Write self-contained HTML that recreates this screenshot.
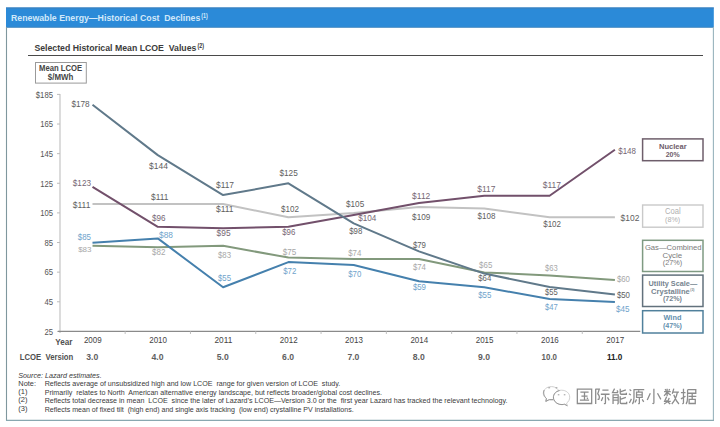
<!DOCTYPE html>
<html><head><meta charset="utf-8"><style>
html,body{margin:0;padding:0;background:#fff;width:720px;height:427px;overflow:hidden}
svg{display:block}
text{font-family:"Liberation Sans",sans-serif;white-space:pre}
</style></head><body>
<svg width="720" height="427" viewBox="0 0 720 427">
<rect x="0" y="0" width="720" height="427" fill="#ffffff"/>
<rect x="6" y="7.5" width="707.8" height="20.1" fill="#2b8ad8"/>
<line x1="6" y1="8.0" x2="713.8" y2="8.0" stroke="#3f7fb8" stroke-width="1"/>
<line x1="6" y1="27.3" x2="713.8" y2="27.3" stroke="#4a86b8" stroke-width="0.7"/>
<line x1="6.5" y1="27" x2="6.5" y2="420.8" stroke="#7f979e" stroke-width="1.1"/>
<line x1="713.4" y1="27" x2="713.4" y2="420.8" stroke="#98b4bd" stroke-width="1.1"/>
<line x1="6" y1="420.3" x2="713.9" y2="420.3" stroke="#88a8b0" stroke-width="1.2"/>
<text x="11.00" y="20.80" font-size="9.71" font-weight="bold" font-style="normal" fill="#d2e9fa" textLength="189.30" lengthAdjust="spacingAndGlyphs">Renewable Energy—Historical Cost  Declines</text>
<text x="201.30" y="18.30" font-size="6.71" font-weight="bold" font-style="normal" fill="#d4ebfb" textLength="6.50" lengthAdjust="spacingAndGlyphs">(1)</text>
<text x="34.40" y="50.60" font-size="9.43" font-weight="bold" font-style="normal" fill="#3c3c3c" textLength="162.00" lengthAdjust="spacingAndGlyphs">Selected Historical Mean LCOE  Values</text>
<text x="197.50" y="48.30" font-size="7.00" font-weight="bold" font-style="normal" fill="#333333" textLength="6.50" lengthAdjust="spacingAndGlyphs">(2)</text>
<line x1="28" y1="55.5" x2="703" y2="55.5" stroke="#4a4a4a" stroke-width="1.1"/>
<rect x="35.5" y="62.5" width="50.8" height="20.6" fill="none" stroke="#9a9a9a" stroke-width="1"/>
<text x="39.10" y="71.10" font-size="8.43" font-weight="bold" font-style="normal" fill="#444444" textLength="43.10" lengthAdjust="spacingAndGlyphs">Mean LCOE</text>
<text x="47.80" y="80.10" font-size="8.86" font-weight="bold" font-style="normal" fill="#444444" textLength="25.50" lengthAdjust="spacingAndGlyphs">$/MWh</text>
<line x1="60" y1="94" x2="60" y2="333" stroke="#c4c4c4" stroke-width="1.2"/>
<line x1="57" y1="94.39999999999998" x2="60" y2="94.39999999999998" stroke="#bcbcbc" stroke-width="1"/>
<text x="35.80" y="97.70" font-size="9.29" font-weight="normal" font-style="normal" fill="#555555" textLength="17.20" lengthAdjust="spacingAndGlyphs">$185</text>
<line x1="57" y1="124.02499999999998" x2="60" y2="124.02499999999998" stroke="#bcbcbc" stroke-width="1"/>
<text x="40.20" y="127.32" font-size="9.29" font-weight="normal" font-style="normal" fill="#555555" textLength="12.80" lengthAdjust="spacingAndGlyphs">165</text>
<line x1="57" y1="153.64999999999998" x2="60" y2="153.64999999999998" stroke="#bcbcbc" stroke-width="1"/>
<text x="40.20" y="156.95" font-size="9.29" font-weight="normal" font-style="normal" fill="#555555" textLength="12.80" lengthAdjust="spacingAndGlyphs">145</text>
<line x1="57" y1="183.27499999999998" x2="60" y2="183.27499999999998" stroke="#bcbcbc" stroke-width="1"/>
<text x="40.20" y="186.57" font-size="9.29" font-weight="normal" font-style="normal" fill="#555555" textLength="12.80" lengthAdjust="spacingAndGlyphs">125</text>
<line x1="57" y1="212.89999999999998" x2="60" y2="212.89999999999998" stroke="#bcbcbc" stroke-width="1"/>
<text x="40.20" y="216.20" font-size="9.29" font-weight="normal" font-style="normal" fill="#555555" textLength="12.80" lengthAdjust="spacingAndGlyphs">105</text>
<line x1="57" y1="242.52499999999998" x2="60" y2="242.52499999999998" stroke="#bcbcbc" stroke-width="1"/>
<text x="44.40" y="245.82" font-size="9.29" font-weight="normal" font-style="normal" fill="#555555" textLength="8.60" lengthAdjust="spacingAndGlyphs">85</text>
<line x1="57" y1="272.15" x2="60" y2="272.15" stroke="#bcbcbc" stroke-width="1"/>
<text x="44.40" y="275.45" font-size="9.29" font-weight="normal" font-style="normal" fill="#555555" textLength="8.60" lengthAdjust="spacingAndGlyphs">65</text>
<line x1="57" y1="301.775" x2="60" y2="301.775" stroke="#bcbcbc" stroke-width="1"/>
<text x="44.40" y="305.07" font-size="9.29" font-weight="normal" font-style="normal" fill="#555555" textLength="8.60" lengthAdjust="spacingAndGlyphs">45</text>
<line x1="57" y1="331.4" x2="60" y2="331.4" stroke="#bcbcbc" stroke-width="1"/>
<text x="44.40" y="334.70" font-size="9.29" font-weight="normal" font-style="normal" fill="#555555" textLength="8.60" lengthAdjust="spacingAndGlyphs">25</text>
<line x1="58" y1="331.4" x2="640.3" y2="331.4" stroke="#8a8a8a" stroke-width="1.1"/>
<line x1="125.15" y1="331.4" x2="125.15" y2="334" stroke="#c0c0c0" stroke-width="1"/>
<line x1="190.45" y1="331.4" x2="190.45" y2="334" stroke="#c0c0c0" stroke-width="1"/>
<line x1="255.75" y1="331.4" x2="255.75" y2="334" stroke="#c0c0c0" stroke-width="1"/>
<line x1="321.04999999999995" y1="331.4" x2="321.04999999999995" y2="334" stroke="#c0c0c0" stroke-width="1"/>
<line x1="386.35" y1="331.4" x2="386.35" y2="334" stroke="#c0c0c0" stroke-width="1"/>
<line x1="451.65" y1="331.4" x2="451.65" y2="334" stroke="#c0c0c0" stroke-width="1"/>
<line x1="516.9499999999999" y1="331.4" x2="516.9499999999999" y2="334" stroke="#c0c0c0" stroke-width="1"/>
<line x1="582.25" y1="331.4" x2="582.25" y2="334" stroke="#c0c0c0" stroke-width="1"/>
<text x="55.30" y="345.00" font-size="8.29" font-weight="bold" font-style="normal" fill="#505050" textLength="17.20" lengthAdjust="spacingAndGlyphs">Year</text>
<text x="19.70" y="360.00" font-size="8.29" font-weight="bold" font-style="normal" fill="#505050" textLength="53.60" lengthAdjust="spacingAndGlyphs">LCOE  Version</text>
<text x="83.90" y="343.30" font-size="8.29" font-weight="normal" font-style="normal" fill="#444444" textLength="17.80" lengthAdjust="spacingAndGlyphs">2009</text>
<text x="86.20" y="359.90" font-size="8.14" font-weight="bold" font-style="normal" fill="#606060" textLength="12.00" lengthAdjust="spacingAndGlyphs">3.0</text>
<text x="149.20" y="343.30" font-size="8.29" font-weight="normal" font-style="normal" fill="#444444" textLength="17.80" lengthAdjust="spacingAndGlyphs">2010</text>
<text x="151.50" y="359.90" font-size="8.14" font-weight="bold" font-style="normal" fill="#606060" textLength="12.00" lengthAdjust="spacingAndGlyphs">4.0</text>
<text x="214.50" y="343.30" font-size="8.29" font-weight="normal" font-style="normal" fill="#444444" textLength="17.80" lengthAdjust="spacingAndGlyphs">2011</text>
<text x="216.80" y="359.90" font-size="8.14" font-weight="bold" font-style="normal" fill="#606060" textLength="12.00" lengthAdjust="spacingAndGlyphs">5.0</text>
<text x="279.80" y="343.30" font-size="8.29" font-weight="normal" font-style="normal" fill="#444444" textLength="17.80" lengthAdjust="spacingAndGlyphs">2012</text>
<text x="282.10" y="359.90" font-size="8.14" font-weight="bold" font-style="normal" fill="#606060" textLength="12.00" lengthAdjust="spacingAndGlyphs">6.0</text>
<text x="345.10" y="343.30" font-size="8.29" font-weight="normal" font-style="normal" fill="#444444" textLength="17.80" lengthAdjust="spacingAndGlyphs">2013</text>
<text x="347.40" y="359.90" font-size="8.14" font-weight="bold" font-style="normal" fill="#606060" textLength="12.00" lengthAdjust="spacingAndGlyphs">7.0</text>
<text x="410.40" y="343.30" font-size="8.29" font-weight="normal" font-style="normal" fill="#444444" textLength="17.80" lengthAdjust="spacingAndGlyphs">2014</text>
<text x="412.70" y="359.90" font-size="8.14" font-weight="bold" font-style="normal" fill="#606060" textLength="12.00" lengthAdjust="spacingAndGlyphs">8.0</text>
<text x="475.70" y="343.30" font-size="8.29" font-weight="normal" font-style="normal" fill="#444444" textLength="17.80" lengthAdjust="spacingAndGlyphs">2015</text>
<text x="478.00" y="359.90" font-size="8.14" font-weight="bold" font-style="normal" fill="#606060" textLength="12.00" lengthAdjust="spacingAndGlyphs">9.0</text>
<text x="541.00" y="343.30" font-size="8.29" font-weight="normal" font-style="normal" fill="#444444" textLength="17.80" lengthAdjust="spacingAndGlyphs">2016</text>
<text x="541.60" y="359.90" font-size="8.14" font-weight="bold" font-style="normal" fill="#606060" textLength="15.40" lengthAdjust="spacingAndGlyphs">10.0</text>
<text x="606.30" y="343.30" font-size="8.29" font-weight="normal" font-style="normal" fill="#444444" textLength="17.80" lengthAdjust="spacingAndGlyphs">2017</text>
<text x="606.90" y="359.90" font-size="8.14" font-weight="bold" font-style="normal" fill="#222222" textLength="15.40" lengthAdjust="spacingAndGlyphs">11.0</text>
<polyline points="92.5,204.0 157.8,204.0 223.1,204.0 288.4,217.3 353.7,212.9 419.0,207.0 484.3,208.5 549.6,217.3 614.9,217.3" fill="none" stroke="#c2c2c2" stroke-width="2" stroke-linejoin="round"/>
<polyline points="92.5,245.8 157.8,247.3 223.1,245.8 288.4,257.6 353.7,259.1 419.0,259.1 484.3,272.4 549.6,275.4 614.9,279.9" fill="none" stroke="#82997c" stroke-width="2" stroke-linejoin="round"/>
<polyline points="92.5,186.8 157.8,226.8 223.1,228.3 288.4,226.8 353.7,215.0 419.0,203.1 484.3,195.7 549.6,195.7 614.9,149.8" fill="none" stroke="#72506b" stroke-width="2" stroke-linejoin="round"/>
<polyline points="92.5,242.8 157.8,238.4 223.1,287.3 288.4,262.1 353.7,265.0 419.0,281.3 484.3,287.3 549.6,299.1 614.9,302.1" fill="none" stroke="#4580ad" stroke-width="2" stroke-linejoin="round"/>
<polyline points="92.5,104.8 157.8,155.1 223.1,195.1 288.4,183.3 353.7,223.3 419.0,251.4 484.3,273.6 549.6,287.0 614.9,294.4" fill="none" stroke="#60798a" stroke-width="2" stroke-linejoin="round"/>
<text x="71.40" y="106.60" font-size="8.71" font-weight="normal" font-style="normal" fill="#606060" textLength="18.30" lengthAdjust="spacingAndGlyphs">$178</text>
<text x="149.00" y="168.90" font-size="8.71" font-weight="normal" font-style="normal" fill="#606060" textLength="18.90" lengthAdjust="spacingAndGlyphs">$144</text>
<text x="216.00" y="187.80" font-size="8.86" font-weight="normal" font-style="normal" fill="#606060" textLength="18.00" lengthAdjust="spacingAndGlyphs">$117</text>
<text x="279.40" y="176.00" font-size="8.86" font-weight="normal" font-style="normal" fill="#606060" textLength="18.40" lengthAdjust="spacingAndGlyphs">$125</text>
<text x="349.20" y="234.40" font-size="8.57" font-weight="normal" font-style="normal" fill="#606060" textLength="13.10" lengthAdjust="spacingAndGlyphs">$98</text>
<text x="412.90" y="248.30" font-size="8.71" font-weight="normal" font-style="normal" fill="#606060" textLength="13.10" lengthAdjust="spacingAndGlyphs">$79</text>
<text x="478.20" y="281.30" font-size="8.57" font-weight="normal" font-style="normal" fill="#606060" textLength="13.10" lengthAdjust="spacingAndGlyphs">$64</text>
<text x="545.10" y="295.30" font-size="8.71" font-weight="normal" font-style="normal" fill="#606060" textLength="12.70" lengthAdjust="spacingAndGlyphs">$55</text>
<text x="616.90" y="298.20" font-size="8.57" font-weight="normal" font-style="normal" fill="#606060" textLength="13.10" lengthAdjust="spacingAndGlyphs">$50</text>
<text x="72.80" y="185.80" font-size="8.57" font-weight="normal" font-style="normal" fill="#756673" textLength="18.20" lengthAdjust="spacingAndGlyphs">$123</text>
<text x="151.90" y="221.00" font-size="9.14" font-weight="normal" font-style="normal" fill="#756673" textLength="13.50" lengthAdjust="spacingAndGlyphs">$96</text>
<text x="216.60" y="236.20" font-size="9.14" font-weight="normal" font-style="normal" fill="#756673" textLength="14.00" lengthAdjust="spacingAndGlyphs">$95</text>
<text x="282.20" y="235.20" font-size="8.86" font-weight="normal" font-style="normal" fill="#756673" textLength="13.20" lengthAdjust="spacingAndGlyphs">$96</text>
<text x="358.20" y="220.90" font-size="8.86" font-weight="normal" font-style="normal" fill="#756673" textLength="18.20" lengthAdjust="spacingAndGlyphs">$104</text>
<text x="412.10" y="199.00" font-size="9.29" font-weight="normal" font-style="normal" fill="#756673" textLength="18.20" lengthAdjust="spacingAndGlyphs">$112</text>
<text x="477.20" y="192.00" font-size="8.57" font-weight="normal" font-style="normal" fill="#756673" textLength="18.20" lengthAdjust="spacingAndGlyphs">$117</text>
<text x="542.80" y="188.20" font-size="8.57" font-weight="normal" font-style="normal" fill="#756673" textLength="18.20" lengthAdjust="spacingAndGlyphs">$117</text>
<text x="618.20" y="154.00" font-size="8.86" font-weight="normal" font-style="normal" fill="#756673" textLength="17.80" lengthAdjust="spacingAndGlyphs">$148</text>
<text x="72.80" y="207.50" font-size="8.57" font-weight="normal" font-style="normal" fill="#606060" textLength="17.60" lengthAdjust="spacingAndGlyphs">$111</text>
<text x="151.00" y="200.40" font-size="9.14" font-weight="normal" font-style="normal" fill="#606060" textLength="17.40" lengthAdjust="spacingAndGlyphs">$111</text>
<text x="216.00" y="212.30" font-size="9.00" font-weight="normal" font-style="normal" fill="#606060" textLength="17.50" lengthAdjust="spacingAndGlyphs">$111</text>
<text x="281.00" y="212.00" font-size="9.14" font-weight="normal" font-style="normal" fill="#606060" textLength="18.00" lengthAdjust="spacingAndGlyphs">$102</text>
<text x="346.00" y="206.80" font-size="8.86" font-weight="normal" font-style="normal" fill="#606060" textLength="18.20" lengthAdjust="spacingAndGlyphs">$105</text>
<text x="412.10" y="219.70" font-size="8.86" font-weight="normal" font-style="normal" fill="#606060" textLength="18.20" lengthAdjust="spacingAndGlyphs">$109</text>
<text x="477.60" y="219.20" font-size="8.57" font-weight="normal" font-style="normal" fill="#606060" textLength="17.80" lengthAdjust="spacingAndGlyphs">$108</text>
<text x="543.20" y="227.20" font-size="8.86" font-weight="normal" font-style="normal" fill="#606060" textLength="17.80" lengthAdjust="spacingAndGlyphs">$102</text>
<text x="620.60" y="220.70" font-size="9.14" font-weight="normal" font-style="normal" fill="#606060" textLength="18.80" lengthAdjust="spacingAndGlyphs">$102</text>
<text x="78.20" y="252.10" font-size="8.00" font-weight="normal" font-style="normal" fill="#a8a8a8" textLength="13.30" lengthAdjust="spacingAndGlyphs">$83</text>
<text x="152.00" y="255.30" font-size="8.57" font-weight="normal" font-style="normal" fill="#a8a8a8" textLength="13.40" lengthAdjust="spacingAndGlyphs">$82</text>
<text x="218.00" y="257.60" font-size="8.57" font-weight="normal" font-style="normal" fill="#a8a8a8" textLength="13.00" lengthAdjust="spacingAndGlyphs">$83</text>
<text x="282.80" y="254.80" font-size="8.57" font-weight="normal" font-style="normal" fill="#a8a8a8" textLength="13.50" lengthAdjust="spacingAndGlyphs">$75</text>
<text x="348.20" y="256.00" font-size="8.86" font-weight="normal" font-style="normal" fill="#a8a8a8" textLength="13.10" lengthAdjust="spacingAndGlyphs">$74</text>
<text x="412.90" y="270.40" font-size="8.57" font-weight="normal" font-style="normal" fill="#a8a8a8" textLength="13.10" lengthAdjust="spacingAndGlyphs">$74</text>
<text x="479.10" y="267.60" font-size="8.57" font-weight="normal" font-style="normal" fill="#a8a8a8" textLength="13.20" lengthAdjust="spacingAndGlyphs">$65</text>
<text x="545.10" y="270.60" font-size="8.86" font-weight="normal" font-style="normal" fill="#a8a8a8" textLength="12.70" lengthAdjust="spacingAndGlyphs">$63</text>
<text x="616.90" y="281.50" font-size="8.29" font-weight="normal" font-style="normal" fill="#a8a8a8" textLength="13.10" lengthAdjust="spacingAndGlyphs">$60</text>
<text x="77.80" y="239.80" font-size="8.57" font-weight="normal" font-style="normal" fill="#6fa3cb" textLength="13.20" lengthAdjust="spacingAndGlyphs">$85</text>
<text x="159.00" y="237.90" font-size="8.57" font-weight="normal" font-style="normal" fill="#6fa3cb" textLength="13.90" lengthAdjust="spacingAndGlyphs">$88</text>
<text x="218.00" y="280.60" font-size="8.71" font-weight="normal" font-style="normal" fill="#6fa3cb" textLength="13.00" lengthAdjust="spacingAndGlyphs">$55</text>
<text x="283.20" y="274.00" font-size="8.57" font-weight="normal" font-style="normal" fill="#6fa3cb" textLength="13.10" lengthAdjust="spacingAndGlyphs">$72</text>
<text x="348.20" y="277.00" font-size="8.57" font-weight="normal" font-style="normal" fill="#6fa3cb" textLength="13.10" lengthAdjust="spacingAndGlyphs">$70</text>
<text x="412.90" y="290.00" font-size="8.57" font-weight="normal" font-style="normal" fill="#6fa3cb" textLength="13.10" lengthAdjust="spacingAndGlyphs">$59</text>
<text x="478.20" y="297.60" font-size="8.57" font-weight="normal" font-style="normal" fill="#6fa3cb" textLength="13.10" lengthAdjust="spacingAndGlyphs">$55</text>
<text x="545.10" y="309.80" font-size="8.57" font-weight="normal" font-style="normal" fill="#6fa3cb" textLength="12.70" lengthAdjust="spacingAndGlyphs">$47</text>
<text x="616.00" y="311.50" font-size="8.86" font-weight="normal" font-style="normal" fill="#6fa3cb" textLength="13.50" lengthAdjust="spacingAndGlyphs">$45</text>
<rect x="642.6" y="138.9" width="60.4" height="21.8" fill="none" stroke="#6e5e6b" stroke-width="1.5"/>
<text x="659.00" y="148.80" font-size="8.10" font-weight="bold" font-style="normal" fill="#6e5c6a" textLength="27.70" lengthAdjust="spacingAndGlyphs">Nuclear</text>
<text x="665.70" y="156.60" font-size="8.00" font-weight="bold" font-style="normal" fill="#6e5c6a" textLength="14.00" lengthAdjust="spacingAndGlyphs">20%</text>
<rect x="642.6" y="205" width="60.4" height="22.2" fill="none" stroke="#c9c9c9" stroke-width="1.4"/>
<text x="665.10" y="214.40" font-size="8.30" font-weight="normal" font-style="normal" fill="#b0b0b0" textLength="15.70" lengthAdjust="spacingAndGlyphs">Coal</text>
<text x="665.10" y="222.20" font-size="8.00" font-weight="normal" font-style="normal" fill="#b0b0b0" textLength="15.00" lengthAdjust="spacingAndGlyphs">(8%)</text>
<rect x="642.6" y="240.3" width="60.4" height="31.2" fill="none" stroke="#7f9a82" stroke-width="1.5"/>
<text x="644.90" y="250.40" font-size="8.00" font-weight="normal" font-style="normal" fill="#7a7a7a" textLength="56.60" lengthAdjust="spacingAndGlyphs">Gas—Combined</text>
<text x="662.50" y="258.00" font-size="8.00" font-weight="normal" font-style="normal" fill="#7a7a7a" textLength="19.70" lengthAdjust="spacingAndGlyphs">Cycle</text>
<text x="662.80" y="265.30" font-size="8.00" font-weight="normal" font-style="normal" fill="#7a7a7a" textLength="19.40" lengthAdjust="spacingAndGlyphs">(27%)</text>
<rect x="642.6" y="275.1" width="60.4" height="31.4" fill="none" stroke="#62717c" stroke-width="1.5"/>
<text x="648.50" y="285.80" font-size="8.00" font-weight="bold" font-style="normal" fill="#76848f" textLength="48.70" lengthAdjust="spacingAndGlyphs">Utility Scale—</text>
<text x="651.10" y="293.60" font-size="8.00" font-weight="bold" font-style="normal" fill="#76848f" textLength="38.70" lengthAdjust="spacingAndGlyphs">Crystalline</text>
<text x="690.30" y="291.00" font-size="4.00" font-weight="bold" font-style="normal" fill="#76848f" textLength="4.10" lengthAdjust="spacingAndGlyphs">(3)</text>
<text x="662.90" y="300.50" font-size="8.00" font-weight="bold" font-style="normal" fill="#76848f" textLength="19.10" lengthAdjust="spacingAndGlyphs">(72%)</text>
<rect x="642.6" y="310.7" width="60.4" height="22.3" fill="none" stroke="#50809c" stroke-width="1.5"/>
<text x="663.50" y="320.20" font-size="8.00" font-weight="bold" font-style="normal" fill="#6490ae" textLength="17.90" lengthAdjust="spacingAndGlyphs">Wind</text>
<text x="662.90" y="327.90" font-size="8.00" font-weight="bold" font-style="normal" fill="#6490ae" textLength="19.10" lengthAdjust="spacingAndGlyphs">(47%)</text>
<text x="18.30" y="377.60" font-size="7.86" font-weight="normal" font-style="italic" fill="#3a3a3a" textLength="83.40" lengthAdjust="spacingAndGlyphs">Source: Lazard estimates.</text>
<text x="18.30" y="385.90" font-size="7.86" font-weight="normal" font-style="normal" fill="#3a3a3a" textLength="17.70" lengthAdjust="spacingAndGlyphs">Note:</text>
<text x="44.70" y="385.90" font-size="7.86" font-weight="normal" font-style="normal" fill="#3a3a3a" textLength="295.60" lengthAdjust="spacingAndGlyphs">Reflects average of unsubsidized high and low LCOE  range for given version of LCOE  study.</text>
<text x="18.30" y="393.60" font-size="7.60" font-weight="normal" font-style="normal" fill="#3a3a3a" textLength="9.20" lengthAdjust="spacingAndGlyphs">(1)</text>
<text x="44.70" y="394.70" font-size="7.86" font-weight="normal" font-style="normal" fill="#3a3a3a" textLength="337.30" lengthAdjust="spacingAndGlyphs">Primarily  relates to North  American alternative energy landscape, but reflects broader/global cost declines.</text>
<text x="18.30" y="402.40" font-size="7.60" font-weight="normal" font-style="normal" fill="#3a3a3a" textLength="9.20" lengthAdjust="spacingAndGlyphs">(2)</text>
<text x="44.70" y="403.40" font-size="7.86" font-weight="normal" font-style="normal" fill="#3a3a3a" textLength="462.80" lengthAdjust="spacingAndGlyphs">Reflects total decrease in mean  LCOE  since the later of Lazard’s LCOE—Version 3.0 or the  first year Lazard has tracked the relevant technology.</text>
<text x="18.30" y="411.10" font-size="7.60" font-weight="normal" font-style="normal" fill="#3a3a3a" textLength="9.20" lengthAdjust="spacingAndGlyphs">(3)</text>
<text x="44.70" y="412.10" font-size="7.86" font-weight="normal" font-style="normal" fill="#3a3a3a" textLength="309.00" lengthAdjust="spacingAndGlyphs">Reflects mean of fixed tilt  (high end) and single axis tracking  (low end) crystalline PV installations.</text>
<g fill="#ffffff" stroke="#c4c4c4" stroke-width="0.8">
<path d="M551.4,386.6 C546.5,386.6 543.3,389.8 543.3,393.4 C543.3,395.5 544.6,397.3 546.4,398.5 L545.8,401.4 L548.8,399.6 C549.6,399.9 550.5,400 551.4,400 C556,400 559.4,397 559.4,393.4 C559.4,389.8 556,386.6 551.4,386.6 Z"/>
<path d="M561.5,390.2 C557,390.2 553.3,393.2 553.3,397.2 C553.3,401.2 557,404.6 561.5,404.6 C562.4,404.6 563.3,404.5 564.1,404.2 L567.4,405.8 L566.6,403.1 C568.6,401.8 569.7,399.6 569.7,397.2 C569.7,393.2 566.2,390.2 561.5,390.2 Z"/>
</g>
<g stroke="#8e8e8e" stroke-width="0.9" fill="none"><path d="M544.2,390 C543.2,392.5 543.6,395.8 546.4,398.5 L545.8,401.4 L549.5,399.6 H553 M559.6,390.6 C555,391.5 552.5,395.5 553.8,399.5 C555,402.5 558,404.6 562,404.6 C563,404.6 564,404.4 564.6,404.2 L567.4,405.8 M548.3,387.8 H550.1 M555.6,387.8 H557.4 M557.8,394.8 H559.4 M563.8,394.8 H565.4"/></g>
<g fill="none" stroke="#8c8c8c" stroke-width="1.25" stroke-linecap="butt" stroke-linejoin="miter">
<path transform="translate(576.30,387.6) scale(1.025)" d="M1,1.5 H15 V15.5 H1 Z M4,4.5 H12 M5,8.3 H11 M3.5,12.3 H12.5 M8,4.5 V12.3 M10.3,9.8 L11.3,11"/>
<path transform="translate(593.65,387.6) scale(1.025)" d="M2,1 V16 M2,1.5 H5.5 L4,6 Q6.5,8.5 5,11.5 H3.8 M8.5,2.5 H14.5 M7,6.5 H15.5 M11.5,6.5 V15 Q11.5,16 10,15.5 M9,9.5 L7.5,13 M13.5,9.5 L15.2,12.5"/>
<path transform="translate(611.00,387.6) scale(1.025)" d="M3.5,1 L1.5,4.8 H7 M5.7,2.8 L7,4 M2,16 V7 H7 V15.3 Q7,16 6,15.8 M2,9.7 H7 M2,12.3 H7 M9,1.2 V5.5 Q9,6.5 10,6.5 H15 V5 M14.5,2.3 L9,4.2 M9,8.5 V14.5 Q9,15.5 10,15.5 H15.3 V13.8 M14.5,9.5 L9,11.5"/>
<path transform="translate(628.35,387.6) scale(1.025)" d="M1.2,1.8 L2.8,3.2 M0.6,6 L2.4,7.3 M1,15 L3,11 M5,2 H15.5 M5.5,2 V10 Q5.5,14 4,16 M10.3,2.8 L9.8,4.5 M8,4.5 H13.5 V9.5 H8 Z M8,7 H13.5 M10.75,9.5 V15 Q10.75,16 9.6,15.5 M8,11.5 L6.5,14.5 M13.5,11.5 L15,14"/>
<path transform="translate(645.70,387.6) scale(1.025)" d="M8,1 V14.8 Q8,16 6.5,15.3 M4.5,5.5 L1.5,12 M11.5,5.5 L14.8,11.5"/>
<path transform="translate(663.05,387.6) scale(1.025)" d="M2,1.5 L3,3 M6.5,1.5 L5.5,3 M1,4 H7.5 M4,1 V8.5 M4,4.5 L1,8 M4,4.5 L7.5,7.5 M3.5,9 L1.5,13.5 H7.5 M6,10 Q5,14 1,16 M3,12.5 L7,16 M10.5,1 L9,6 M9.5,4.5 H15.5 M14,4.5 Q12.5,12 8.5,16 M10.5,7 Q12.5,13 15.5,16"/>
<path transform="translate(680.40,387.6) scale(1.025)" d="M0.5,5 H5 M3,1 V14.8 Q3,16 1.8,15.5 M0.5,11 L5,8.5 M7,2 H15 V5.5 H7 M7,2 V10 Q7,14 5.5,16 M8,8.5 H15.5 M11.5,6 V11.5 M8.5,11.5 H14.5 V15.5 H8.5 Z"/>
</g>
</svg>
</body></html>
